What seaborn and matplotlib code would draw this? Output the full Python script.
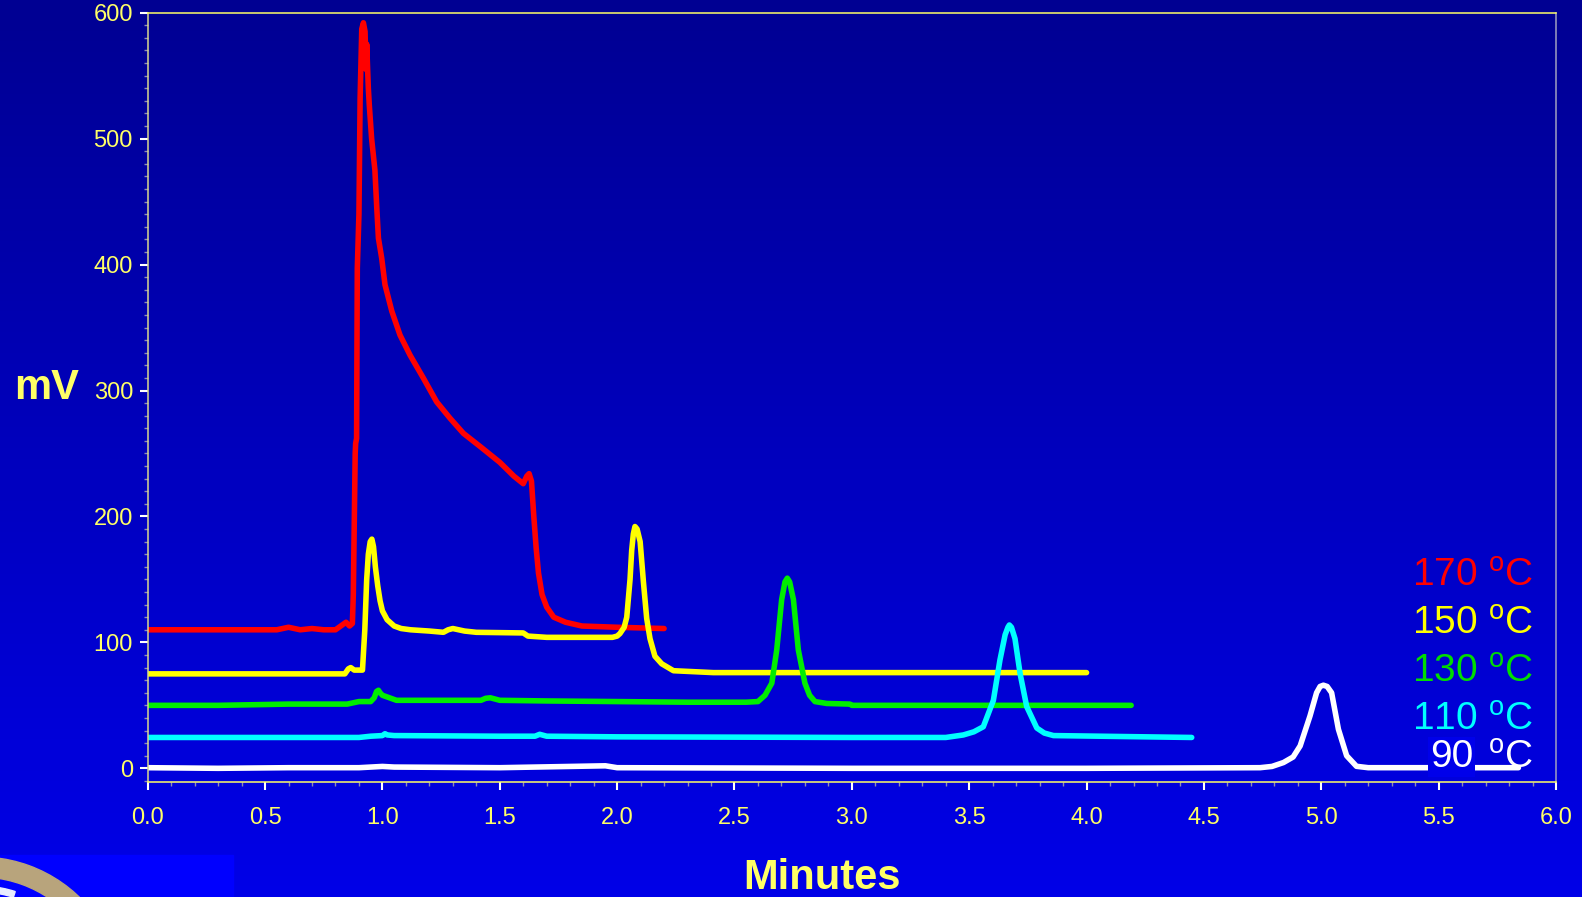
import numpy as np
import pandas as pd
import matplotlib
matplotlib.use("Agg")
import matplotlib.pyplot as plt
import matplotlib.transforms as mtransforms
from matplotlib.patches import Rectangle, Wedge
from matplotlib.ticker import MultipleLocator, FixedLocator, FixedFormatter
import seaborn as sns

# ---------------- data ----------------
series_labels = [r"170 $^\mathrm{o}$C", r"150 $^\mathrm{o}$C", r"130 $^\mathrm{o}$C",
                 r"110 $^\mathrm{o}$C", r"90 $^\mathrm{o}$C"]

x_170 = [0, 0.3, 0.55, 0.6, 0.65, 0.7, 0.75, 0.8, 0.83, 0.845, 0.86, 0.872, 0.876,
         0.884, 0.886, 0.89, 0.893, 0.9, 0.905, 0.912, 0.919, 0.926, 0.93, 0.933,
         0.94, 0.944, 0.954, 0.968, 0.976, 0.983, 0.997, 1.011, 1.04, 1.075, 1.118,
         1.174, 1.231, 1.288, 1.345, 1.42, 1.5, 1.56, 1.6, 1.615, 1.625, 1.635,
         1.645, 1.655, 1.665, 1.68, 1.70, 1.73, 1.78, 1.85, 2.0, 2.2]
y_170 = [110, 110, 110, 112, 110, 111, 110, 110, 114, 116, 113, 115, 138,
         250, 258, 262, 397, 440, 532, 587, 592, 585, 555, 575,
         540, 527, 500, 475, 445, 421, 405, 384, 363, 344, 328,
         310, 291, 278, 266, 255, 243, 232, 226, 232, 234, 228,
         200, 175, 155, 138, 128, 120, 116, 113, 112, 111]

x_150 = [0, 0.5, 0.84, 0.855, 0.865, 0.88, 0.915, 0.925, 0.933, 0.94, 0.948, 0.955,
         0.962, 0.97, 0.98, 0.99, 1.0, 1.02, 1.05, 1.08, 1.12, 1.2, 1.26, 1.28, 1.3,
         1.35, 1.4, 1.6, 1.62, 1.7, 1.98, 2.0, 2.012, 2.03, 2.041, 2.055, 2.062,
         2.069, 2.076, 2.085, 2.098, 2.112, 2.126, 2.14, 2.161, 2.19, 2.24, 2.41, 4.0]
y_150 = [75, 75, 75, 79, 80, 78, 78, 110, 150, 170, 180, 182,
         176, 160, 145, 133, 125, 118, 113, 111, 110, 109, 108, 110, 111,
         109, 108, 107.5, 105, 104, 104, 105, 107, 112, 120, 150, 173,
         186, 192, 190, 180, 148, 119, 103, 89, 83, 77.5, 76, 76]

x_130 = [0, 0.3, 0.6, 0.85, 0.9, 0.95, 0.965, 0.975, 0.983, 0.99, 1.0, 1.03, 1.06,
         1.2, 1.3, 1.42, 1.44, 1.46, 1.5, 1.7, 2.0, 2.3, 2.55, 2.60, 2.63, 2.659,
         2.68, 2.701, 2.715, 2.725, 2.735, 2.751, 2.772, 2.8, 2.82, 2.843, 2.893,
         2.992, 3.0, 4.19]
y_130 = [50, 50, 51, 51, 53, 53, 56, 61, 62, 60, 58, 56, 54,
         54, 54, 54, 55.6, 56, 54, 53.5, 53, 52.5, 52.5, 53, 58, 67.6,
         94, 134, 148, 151, 148, 134, 94, 67.6, 58, 53, 51.5,
         51, 50, 50]

x_110 = [0, 0.5, 0.9, 0.95, 1.0, 1.011, 1.02, 1.05, 1.5, 1.65, 1.67, 1.7, 2.0, 3.0,
         3.4, 3.475, 3.52, 3.56, 3.603, 3.631, 3.653, 3.665, 3.671, 3.68, 3.695,
         3.717, 3.745, 3.788, 3.82, 3.859, 4.448]
y_110 = [24.5, 24.5, 24.5, 25.5, 26, 27.5, 26.5, 26, 25.5, 25.5, 27, 25.5, 25, 24.5,
         24.5, 26.5, 29, 33, 54, 86, 106, 112, 113.8, 112, 103,
         75, 49, 32, 28, 26, 24.5]

x_90 = [0, 0.3, 0.6, 0.9, 1.0, 1.05, 1.5, 1.95, 2.0, 3.0, 4.0, 4.739, 4.79, 4.839,
        4.88, 4.91, 4.952, 4.98, 4.995, 5.009, 5.025, 5.044, 5.073, 5.108, 5.15,
        5.2, 5.84]
y_90 = [0.5, 0, 0.5, 0.5, 1.5, 1, 0.5, 2, 0.5, 0, 0, 0.5, 1.5, 4.6,
        9, 17.8, 41.6, 60, 65, 66, 65, 60, 31, 10, 1.6,
        0.5, 0.5]

x_ticks = [0.0, 0.5, 1.0, 1.5, 2.0, 2.5, 3.0, 3.5, 4.0, 4.5, 5.0, 5.5, 6.0]
x_tick_labels = ["0.0", "0.5", "1.0", "1.5", "2.0", "2.5", "3.0", "3.5", "4.0",
                 "4.5", "5.0", "5.5", "6.0"]
y_ticks = [0, 100, 200, 300, 400, 500, 600]
y_tick_labels = ["0", "100", "200", "300", "400", "500", "600"]

line_colors = ["#ff0000", "#ffff00", "#00ee00", "#00ffff", "#ffffff"]
text_colors = ["#ff0000", "#ffff00", "#00dd00", "#00ffff", "#ffffff"]

frames = []
for lab, xs, ys in zip(series_labels,
                       [x_170, x_150, x_130, x_110, x_90],
                       [y_170, y_150, y_130, y_110, y_90]):
    frames.append(pd.DataFrame({"Minutes": xs, "mV": ys, "temp": lab}))
df = pd.concat(frames, ignore_index=True)

# ---------------- style ----------------
sns.set_theme(style="white")
plt.rcParams['font.family'] = ['Liberation Sans', 'DejaVu Sans']
plt.rcParams['mathtext.fontset'] = 'custom'
plt.rcParams['mathtext.rm'] = 'Liberation Sans'

W, H = 1582, 897
fig = plt.figure(figsize=(W / 100, H / 100), dpi=100)

# background gradient
bg = fig.add_axes([0, 0, 1, 1], zorder=-10)
t = np.linspace(0, 1, 256)[:, None, None]
top = np.array([0, 0, 146]) / 255.0
bot = np.array([0, 0, 232]) / 255.0
img = top + (bot - top) * t
bg.imshow(img, extent=[0, 1, 0, 1], aspect="auto", origin="upper")
bg.set_xlim(0, 1)
bg.set_ylim(0, 1)
bg.axis("off")

# logo fragment bottom-left (pixel coordinates)
pix = mtransforms.IdentityTransform()
bg.add_patch(Rectangle((0, 0), 233, 897 - 855, transform=pix, color="#0000ff", zorder=1))
bg.add_patch(Wedge((-20, 897 - 1000), 143, 40, 100, width=20, transform=pix,
                   color="#b8a47c", zorder=2))
bg.add_patch(Wedge((-20, 897 - 1000), 114, 72, 100, width=6, transform=pix,
                   color="#e8ecff", zorder=2))

# main axes
ax = fig.add_axes([147.7 / W, (H - 782.3) / H, (1556 - 147.7) / W, (782.3 - 12.7) / H])
ax.set_facecolor("none")

for lab, col in zip(series_labels, line_colors):
    sub = df[df["temp"] == lab]
    sns.lineplot(data=sub, x="Minutes", y="mV", color=col, linewidth=4.0,
                 estimator=None, sort=False, ax=ax, legend=False)

ax.set_xlim(0, 6)
ax.set_ylim(-11.1, 600)
ax.set_xlabel("")
ax.set_ylabel("")

ax.xaxis.set_major_locator(FixedLocator(x_ticks))
ax.xaxis.set_major_formatter(FixedFormatter(x_tick_labels))
ax.yaxis.set_major_locator(FixedLocator(y_ticks))
ax.yaxis.set_major_formatter(FixedFormatter(y_tick_labels))
ax.xaxis.set_minor_locator(MultipleLocator(0.1))
ax.yaxis.set_minor_locator(MultipleLocator(10))

ax.tick_params(axis="both", which="both", bottom=True, left=True, top=False, right=False,
               direction="out")
ax.tick_params(axis="both", which="major", length=5.8, width=1.5, color="white",
               labelcolor="#ffff66", labelsize=17)
ax.tick_params(axis="both", which="minor", length=3.2, width=1.0, color="#8c8cb4")
ax.tick_params(axis="x", which="major", pad=12)
ax.tick_params(axis="y", which="major", pad=4.8)

for side, col in [("top", "#ffff66"), ("bottom", "#ffff66"), ("left", "#d8d890"),
                  ("right", "#a0a0c0")]:
    ax.spines[side].set_visible(True)
    ax.spines[side].set_color(col)
    ax.spines[side].set_linewidth(1.1)

# series labels
label_baselines = [144.8, 106.7, 68.8, 31.0]
for lab, col, yb in zip(series_labels[:4], text_colors[:4], label_baselines):
    ax.text(5.902, yb, lab, color=col, fontsize=28, ha="right", va="baseline", zorder=5)
# 90 oC : number sits on a blue box that hides the trace behind it
num, unit = series_labels[4].split(" ")
ax.text(5.902, 0.8, unit, color=text_colors[4], fontsize=28, ha="right", va="baseline",
        zorder=5)
ax.text(5.647, 0.8, num, color=text_colors[4], fontsize=28, ha="right", va="baseline",
        zorder=5, bbox=dict(boxstyle="square,pad=0.05", facecolor="#0000ea",
                            edgecolor="none"))

# axis titles
fig.text(47 / W, 1 - 388 / H, "mV", ha="center", va="center", fontsize=30,
         fontweight="bold", color="#ffff66")
fig.text(822 / W, 1 - 889 / H, "Minutes", ha="center", va="baseline", fontsize=30,
         fontweight="bold", color="#ffff66")

fig.savefig("out.png", dpi=100)
